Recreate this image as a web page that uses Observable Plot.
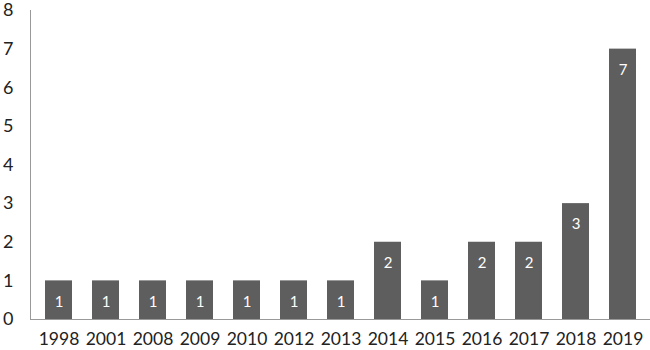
<!DOCTYPE html>
<html>
<head>
<meta charset="utf-8">
<script src="https://cdn.jsdelivr.net/npm/d3@7"></script>
<script src="https://cdn.jsdelivr.net/npm/@observablehq/plot@0.6"></script>
<style>
  body { margin: 0; background: #fff; }
  #chart svg { font-family: Lato, "Open Sans", sans-serif; }
</style>
</head>
<body>
<div id="chart"></div>
<script>
const years = ["1998","2001","2008","2009","2010","2012","2013","2014","2015","2016","2017","2018","2019"];
const counts = [1,1,1,1,1,1,1,2,1,2,2,3,7];
const yTicks = [0,1,2,3,4,5,6,7,8];

const data = years.map((y, i) => ({year: y, count: counts[i]}));

const chart = Plot.plot({
  width: 650,
  height: 350,
  marginLeft: 30,
  marginRight: 0,
  marginTop: 10,
  marginBottom: 31,
  style: {background: "#fff", color: "#222", fontSize: "17px"},
  x: {domain: years, paddingInner: 0.43, paddingOuter: 0.215, label: null},
  y: {domain: [0, 8], label: null},
  marks: [
    Plot.barY(data, {x: "year", y: "count", fill: "#5e5e5e"}),
    Plot.text(data, {x: "year", y: "count", text: d => String(d.count), fill: "#fff", dy: 21, fontSize: 15}),
    Plot.ruleY([0], {stroke: "#999", strokeWidth: 1}),
    Plot.frame({anchor: "left", stroke: "#999", strokeWidth: 1}),
    Plot.axisY({ticks: yTicks, tickSize: 0, tickPadding: 17, tickFormat: d => String(d), label: null, fontSize: 18}),
    Plot.axisX({tickSize: 0, tickPadding: 13, label: null, fontSize: 17.5})
  ]
});
document.getElementById("chart").appendChild(chart);
</script>
</body>
</html>
